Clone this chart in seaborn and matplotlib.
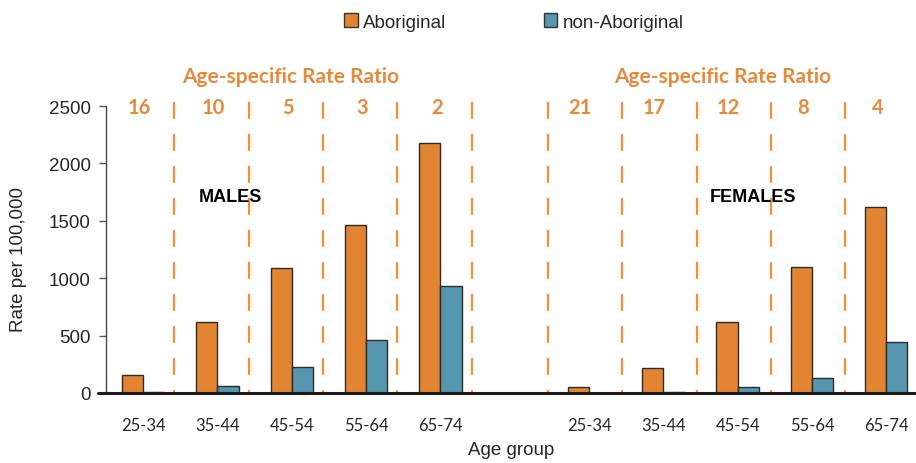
import numpy as np
import pandas as pd
import matplotlib
matplotlib.use("Agg")
import matplotlib.pyplot as plt
import matplotlib.patches as mpatches
import seaborn as sns

# === DATA ===
age_groups = ["25-34", "35-44", "45-54", "55-64", "65-74"]
male_abor = [157, 621, 1088, 1465, 2180]
male_non = [5, 61, 224, 459, 935]
female_abor = [50, 215, 616, 1098, 1618]
female_non = [2, 6, 50, 128, 441]
male_ratio = ["16", "10", "5", "3", "2"]
female_ratio = ["21", "17", "12", "8", "4"]
groups = ["Aboriginal", "non-Aboriginal"]

ORANGE = "#E38433"
BLUE = "#5696AE"
DASH = "#F2913C"
RATIO_TXT = "#E8893A"

# slots: 5 males, one empty gap, 5 females
slots = [f"M {a}" for a in age_groups] + ["gap"] + [f"F {a}" for a in age_groups]
rows = []
for i, a in enumerate(age_groups):
    rows.append((f"M {a}", groups[0], male_abor[i]))
    rows.append((f"M {a}", groups[1], male_non[i]))
    rows.append((f"F {a}", groups[0], female_abor[i]))
    rows.append((f"F {a}", groups[1], female_non[i]))
df = pd.DataFrame(rows, columns=["slot", "group", "rate"])

sns.set_style("white")
plt.rcParams["font.family"] = ["Liberation Sans", "DejaVu Sans"]

fig = plt.figure(figsize=(9.16, 4.64), dpi=100)
ax = fig.add_axes([106 / 916, 1 - 394 / 464, 1 - 106 / 916, (394 - 107) / 464])

sns.barplot(data=df, x="slot", y="rate", hue="group", order=slots,
            hue_order=groups, palette=[ORANGE, BLUE], saturation=1,
            width=0.57, gap=0, edgecolor="#2b2b2b", linewidth=1.0,
            ax=ax, legend=False)

ax.set_xlim(-0.5, 10.4)
ax.set_ylim(0, 2500)
ax.set_yticks(range(0, 2501, 500))
ax.tick_params(axis="y", labelsize=13.5, length=5, width=1, color="#555555",
               direction="out", left=True, pad=6)
ax.set_xticks(range(len(slots)))
ax.set_xticklabels([a for a in age_groups] + [""] + [a for a in age_groups],
                   fontfamily="Lato", fontsize=12)
ax.tick_params(axis="x", length=0, pad=17)

for s in ["top", "right", "bottom"]:
    ax.spines[s].set_visible(False)
ax.spines["left"].set_color("#444444")
ax.spines["left"].set_linewidth(1)
ax.axhline(0, xmin=-0.01, color="#1a1a1a", lw=2.2, clip_on=False, zorder=5)

# dashed separators, drawn from the top down so the pattern starts at the top
for i in range(10):
    off = 0.42 if i < 5 else 0.45
    ax.plot([i + off, i + off], [2535, 0], color=DASH, lw=1.6,
            dashes=(7.6, 6.8), clip_on=False, zorder=1)

# rate ratio labels
for i, r in enumerate(male_ratio):
    ax.text(i - 0.05, 2495, r, ha="center", va="center", color=RATIO_TXT,
            fontfamily="Lato", fontweight="bold", fontsize=14.5, clip_on=False)
for i, r in enumerate(female_ratio):
    ax.text(6 + i - 0.12, 2495, r, ha="center", va="center", color=RATIO_TXT,
            fontfamily="Lato", fontweight="bold", fontsize=14.5, clip_on=False)
for xc in (1.98, 7.8):
    ax.text(xc, 2765, "Age-specific Rate Ratio", ha="center", va="center",
            color=RATIO_TXT, fontfamily="Lato", fontweight="bold", fontsize=15,
            clip_on=False)

ax.text(1.18, 1715, "MALES", ha="center", va="center", fontweight="bold",
        fontsize=13, color="black")
ax.text(8.2, 1715, "FEMALES", ha="center", va="center", fontweight="bold",
        fontsize=13, color="black")

ax.set_ylabel("Rate per 100,000", fontsize=13.5)
ax.yaxis.set_label_coords(-0.098, 0.47)
ax.set_xlabel("Age group", fontsize=13.5)
ax.xaxis.set_label_coords(0.5, -0.168)

handles = [mpatches.Patch(facecolor=ORANGE, edgecolor="#333333", label=groups[0]),
           mpatches.Patch(facecolor=BLUE, edgecolor="#333333", label=groups[1])]
fig.legend(handles=handles, loc="center", bbox_to_anchor=(514 / 916, 1 - 23 / 464),
           ncol=2, frameon=False, fontsize=13.5, handlelength=0.7, handleheight=0.7,
           handletextpad=0.3, columnspacing=5.2)

fig.savefig("out.png", dpi=100)
